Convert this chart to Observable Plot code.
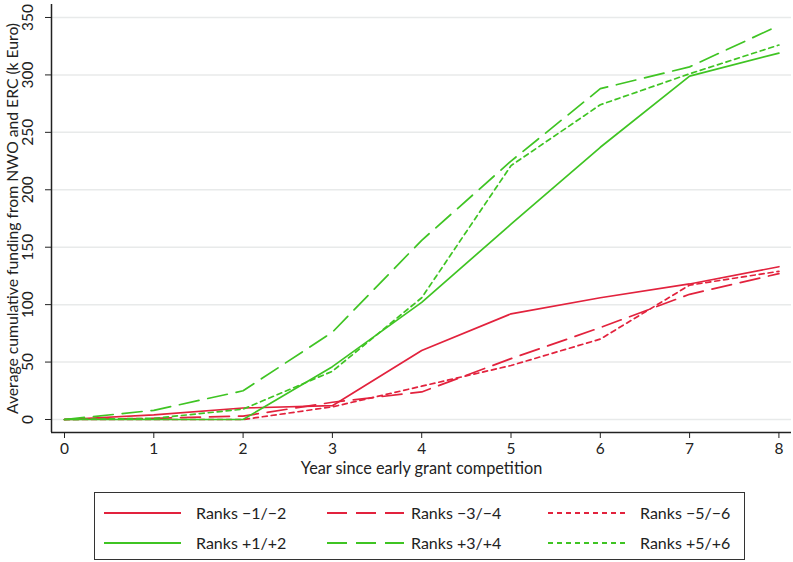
<!DOCTYPE html>
<html>
<head>
<meta charset="utf-8">
<script src="https://cdn.jsdelivr.net/npm/d3@7"></script>
<script src="https://cdn.jsdelivr.net/npm/@observablehq/plot@0.6"></script>
<style>
  html, body { margin: 0; padding: 0; background: #fff; }
  #wrap { position: relative; width: 793px; height: 562px; font-family: Lato, "Noto Sans", sans-serif; color: #222; }
  #legend { position: absolute; left: 94px; top: 492px; width: 649px; height: 66px; border: 1.5px solid #333; box-sizing: content-box; }
  .item { position: absolute; font-size: 16px; line-height: 20px; }
</style>
</head>
<body>
<div id="wrap"><div id="chart"></div><div id="legend"></div></div>
<script>
const years = [0, 1, 2, 3, 4, 5, 6, 7, 8];
const rank12neg = [0, 4, 10, 12, 60, 92, 106, 118, 133];
const rank34neg = [0, 1, 3, 15, 24, 53, 80, 109, 127];
const rank56neg = [0, 0, 0, 11, 29, 47, 70, 117, 129];
const rank12pos = [0, 0, 0, 46, 102, 170, 237, 299, 319];
const rank34pos = [0, 8, 25, 76, 156, 225, 288, 307, 343];
const rank56pos = [0, 1, 9, 42, 106, 221, 274, 301, 326];
const yTicks = [0, 50, 100, 150, 200, 250, 300, 350];
const xTicks = [0, 1, 2, 3, 4, 5, 6, 7, 8];

const RED = "#e2223d", GREEN = "#3fc423";
const series = [
  {name: "Ranks \u22121/\u22122", values: rank12neg, color: RED, dash: null},
  {name: "Ranks \u22123/\u22124", values: rank34neg, color: RED, dash: "20,9"},
  {name: "Ranks \u22125/\u22126", values: rank56neg, color: RED, dash: "5,4"},
  {name: "Ranks +1/+2", values: rank12pos, color: GREEN, dash: null},
  {name: "Ranks +3/+4", values: rank34pos, color: GREEN, dash: "20,9"},
  {name: "Ranks +5/+6", values: rank56pos, color: GREEN, dash: "5,4"}
];

const xDomain = [-0.1456, 8.141];
const yDomain = [-11.32, 361.3];

const lineMarks = series.map(s => Plot.line(years.map((yr, i) => ({x: yr, y: s.values[i]})), {
  x: "x", y: "y", stroke: s.color, strokeWidth: 1.7, strokeDasharray: s.dash
}));

const chart = Plot.plot({
  width: 793,
  height: 480,
  marginLeft: 51,
  marginRight: 2,
  marginTop: 4,
  marginBottom: 48,
  style: {fontFamily: "Lato, 'Noto Sans', sans-serif", fontSize: "15px", color: "#222", background: "#fff"},
  x: {domain: xDomain, ticks: xTicks},
  y: {domain: yDomain, ticks: yTicks},
  marks: [
    Plot.ruleY(yTicks, {stroke: "#e8eaea", strokeWidth: 1.5}),
    ...lineMarks,
    Plot.ruleX([xDomain[0]], {stroke: "#222", strokeWidth: 1.5}),
    Plot.ruleY([yDomain[0]], {stroke: "#222", strokeWidth: 1.5}),
    Plot.axisX({ticks: xTicks, tickSize: 6, tickPadding: 4, fontSize: 15.5, label: null, stroke: "#222"}),
    Plot.axisY({ticks: yTicks, tickSize: 6, tickPadding: 13, tickRotate: -90, fontSize: 15.5, label: null, stroke: "#222"}),
    Plot.text(["Year since early grant competition"], {frameAnchor: "bottom", dy: 36, lineAnchor: "middle", fontSize: 16.3, fill: "#222"}),
    Plot.text(["Average cumulative funding from NWO and ERC (k Euro)"], {frameAnchor: "left", dx: -39, rotate: -90, textAnchor: "middle", lineAnchor: "middle", fontSize: 15.7, fill: "#222"})
  ]
});
document.getElementById("chart").appendChild(chart);

// Legend
const legend = document.getElementById("legend");
const colLeft = [9, 232, 453];
const textLeft = [101, 316, 545];
const rowTop = [10, 40];
series.forEach((s, i) => {
  const col = i % 3, row = Math.floor(i / 3);
  const sw = document.createElementNS("http://www.w3.org/2000/svg", "svg");
  sw.setAttribute("width", 78); sw.setAttribute("height", 20);
  sw.style.position = "absolute";
  sw.style.left = colLeft[col] + "px";
  sw.style.top = rowTop[row] + "px";
  const ln = document.createElementNS("http://www.w3.org/2000/svg", "line");
  ln.setAttribute("x1", 0); ln.setAttribute("x2", 77);
  ln.setAttribute("y1", 10); ln.setAttribute("y2", 10);
  ln.setAttribute("stroke", s.color); ln.setAttribute("stroke-width", 2);
  if (s.dash) ln.setAttribute("stroke-dasharray", s.dash);
  sw.appendChild(ln);
  legend.appendChild(sw);
  const t = document.createElement("div");
  t.className = "item";
  t.style.left = textLeft[col] + "px";
  t.style.top = rowTop[row] + "px";
  t.textContent = s.name;
  legend.appendChild(t);
});
</script>
</body>
</html>
